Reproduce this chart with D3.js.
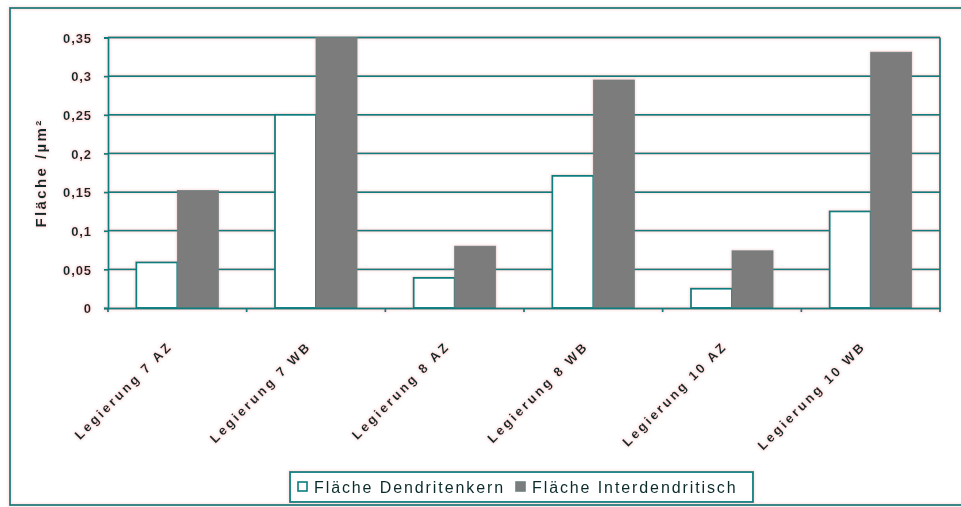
<!DOCTYPE html>
<html>
<head>
<meta charset="utf-8">
<script src="https://cdn.jsdelivr.net/npm/d3@7/dist/d3.min.js"></script>
<style>
  html, body { margin: 0; padding: 0; background: #fff; }
  svg { display: block; }
  text { font-family: Arial, "Liberation Sans", sans-serif; }
</style>
</head>
<body>
<svg id="chart" width="961" height="507"></svg>
<script>
// Alloy samples on the x axis
const categories = ["Legierung 7 AZ", "Legierung 7 WB", "Legierung 8 AZ", "Legierung 8 WB", "Legierung 10 AZ", "Legierung 10 WB"];
// Series names as shown in the legend
const seriesNames = ["Fläche Dendritenkern", "Fläche Interdendritisch"];
// Area values per alloy (µm²)
const dendritenkern = [0.059, 0.25, 0.039, 0.171, 0.025, 0.125];
const interdendritisch = [0.152, 0.35, 0.080, 0.295, 0.074, 0.331];
// Y axis ticks and their labels (German decimal comma)
const yTicks = [0, 0.05, 0.1, 0.15, 0.2, 0.25, 0.3, 0.35];
const yTickLabels = ["0", "0,05", "0,1", "0,15", "0,2", "0,25", "0,3", "0,35"];
const yTitle = "Fläche /µm²";

const ink = "#0b7d7e";
const textInk = "#0c2b2c";
const grayFill = "#7c7c7c";

const svg = d3.select("#chart");
svg.append("rect").attr("width", 961).attr("height", 507).attr("fill", "#fff");

// soft pinkish fringe around every stroke and glyph
const defs = svg.append("defs");
const f = defs.append("filter").attr("id", "fringe")
  .attr("x", "-2%").attr("y", "-2%").attr("width", "104%").attr("height", "104%");
f.append("feMorphology").attr("in", "SourceAlpha").attr("operator", "dilate").attr("radius", 1).attr("result", "d");
f.append("feGaussianBlur").attr("in", "d").attr("stdDeviation", 0.9).attr("result", "b");
f.append("feFlood").attr("flood-color", "#f3a0a0").attr("flood-opacity", 0.3).attr("result", "c");
f.append("feComposite").attr("in", "c").attr("in2", "b").attr("operator", "in").attr("result", "halo");
f.append("feGaussianBlur").attr("in", "SourceGraphic").attr("stdDeviation", 0.3).attr("result", "soft");
const m = f.append("feMerge");
m.append("feMergeNode").attr("in", "halo");
m.append("feMergeNode").attr("in", "soft");

const g = svg.append("g").attr("filter", "url(#fringe)");

// outer chart frame (runs off the right edge)
g.append("rect").attr("x", 10).attr("y", 8).attr("width", 970).attr("height", 497)
  .attr("fill", "none").attr("stroke", ink).attr("stroke-width", 1.8);

const plot = { left: 108, right: 940, top: 37.5, bottom: 308 };

const x0 = d3.scaleBand().domain(categories).range([plot.left, plot.right]).paddingInner(0).paddingOuter(0);
const x1 = d3.scaleBand().domain(seriesNames).range([0, x0.bandwidth()]).paddingInner(0).paddingOuter(0.69);
const y = d3.scaleLinear().domain([0, 0.35]).range([plot.bottom, plot.top]);

// horizontal gridlines
g.append("g").selectAll("line").data(yTicks.slice(1)).join("line")
  .attr("x1", plot.left).attr("x2", plot.right)
  .attr("y1", d => y(d)).attr("y2", d => y(d))
  .attr("stroke", ink).attr("stroke-width", 1.8);

// right frame of plot area
g.append("line").attr("x1", plot.right).attr("x2", plot.right)
  .attr("y1", plot.top).attr("y2", plot.bottom)
  .attr("stroke", ink).attr("stroke-width", 1.8);

// bars
const rows = categories.map((c, i) => ({ cat: c, vals: [dendritenkern[i], interdendritisch[i]] }));
const groups = g.append("g").selectAll("g").data(rows).join("g")
  .attr("transform", d => `translate(${x0(d.cat)},0)`);
groups.selectAll("rect").data(d => d.vals.map((v, k) => ({ s: seriesNames[k], v, k }))).join("rect")
  .attr("x", d => x1(d.s))
  .attr("width", x1.bandwidth())
  .attr("y", d => y(d.v))
  .attr("height", d => y(0) - y(d.v))
  .attr("fill", d => d.k === 0 ? "#fff" : grayFill)
  .attr("stroke", d => d.k === 0 ? ink : "#6f8080")
  .attr("stroke-width", d => d.k === 0 ? 1.8 : 0.8);

// y axis
const yAxis = d3.axisLeft(y).tickValues(yTicks)
  .tickFormat((d, i) => yTickLabels[i]).tickSize(4).tickPadding(12);
const ya = g.append("g").attr("transform", `translate(${plot.left},0)`).call(yAxis);
ya.select(".domain").attr("stroke", ink).attr("stroke-width", 1.8);
ya.selectAll(".tick line").attr("stroke", ink).attr("stroke-width", 1.8);
ya.selectAll(".tick text").attr("fill", textInk).attr("font-size", 13).attr("font-weight", "bold")
  .attr("letter-spacing", 0.9).attr("dy", "0.36em");

// x axis: baseline, ticks between categories, rotated labels
const xAxis = d3.axisBottom(x0).tickSize(0).tickPadding(0);
const xa = g.append("g").attr("transform", `translate(0,${plot.bottom})`).call(xAxis);
xa.select(".domain").attr("stroke", ink).attr("stroke-width", 1.8);
xa.selectAll(".tick text")
  .attr("fill", textInk).attr("font-size", 13).attr("font-weight", "bold")
  .attr("letter-spacing", 2.7)
  .attr("text-anchor", "end")
  .attr("dy", 0).attr("y", 0)
  .attr("transform", "translate(-4,39) rotate(-45)");
const bounds = categories.map(c => x0(c)).concat([plot.right]);
g.append("g").selectAll("line").data(bounds).join("line")
  .attr("x1", d => d).attr("x2", d => d)
  .attr("y1", plot.bottom).attr("y2", plot.bottom + 4)
  .attr("stroke", ink).attr("stroke-width", 1.8);

// y axis title
g.append("text")
  .attr("transform", `translate(46,173) rotate(-90)`)
  .attr("text-anchor", "middle")
  .attr("fill", textInk).attr("font-size", 15).attr("font-weight", "bold")
  .attr("letter-spacing", 2.4)
  .text(yTitle);

// legend
const lg = g.append("g");
lg.append("rect").attr("x", 290).attr("y", 472).attr("width", 463).attr("height", 30)
  .attr("fill", "#fff").attr("stroke", ink).attr("stroke-width", 1.8);
const legendItems = [
  { name: seriesNames[0], fill: "#fff", stroke: ink, sx: 298, tx: 314 },
  { name: seriesNames[1], fill: grayFill, stroke: "#6f8080", sx: 516, tx: 532 }
];
legendItems.forEach(it => {
  lg.append("rect").attr("x", it.sx).attr("y", 482).attr("width", 9).attr("height", 9)
    .attr("fill", it.fill).attr("stroke", it.stroke).attr("stroke-width", 1.6);
  lg.append("text").attr("x", it.tx).attr("y", 493)
    .attr("fill", textInk).attr("font-size", 16).attr("letter-spacing", 1.9)
    .text(it.name);
});
</script>
</body>
</html>
